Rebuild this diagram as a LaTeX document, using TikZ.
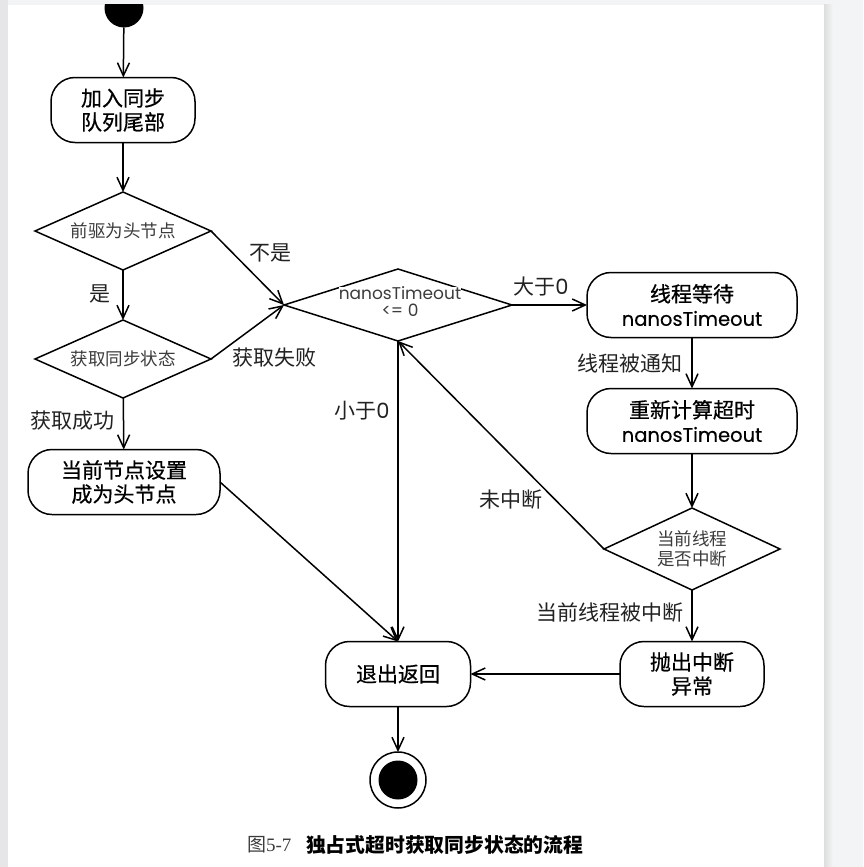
\documentclass[tikz,border=0pt]{standalone}
\usepackage{fontspec}
\setmainfont{Noto Sans CJK SC}
\newfontfamily\actfont[FakeBold=0.6]{Noto Sans CJK SC}
\newfontfamily\latinfont{Poppins}
\newfontfamily\actlatin[FakeBold=0.3]{Poppins}
\newfontfamily\numserif{Liberation Serif}
\usetikzlibrary{shapes.geometric,arrows.meta}

\definecolor{pagegray}{HTML}{F3F4F6}
\definecolor{stripgray}{HTML}{E6E6E9}
\definecolor{inkgray}{HTML}{222222}
\definecolor{softgray}{HTML}{3C3C3C}

\begin{document}
\begin{tikzpicture}[x=1pt,y=-1pt,
  every node/.style={inner sep=0pt, outer sep=0pt},
  act/.style={draw, line width=1.5pt, rounded corners=24pt, fill=white,
    minimum height=65pt, align=center, text=black,
    font=\actfont\fontsize{21}{24}\selectfont},
  dec/.style={draw, diamond, line width=1.5pt, fill=white},
  dectext/.style={align=center, text=softgray, font=\fontsize{17.5}{20}\selectfont},
  lbl/.style={text=inkgray, font=\fontsize{21}{24}\selectfont},
  flow/.style={line width=1.5pt, -{Straight Barb[length=13pt,width=12pt]}},
  boxlatin/.style={font=\actlatin\fontsize{19.5}{22}\selectfont},
]
% page and surrounding viewer background
\useasboundingbox (0,0) rectangle (863,867);
\fill[pagegray] (0,0) rectangle (863,867);
\fill[stripgray] (0,0) rectangle (8,867);
\fill[white] (8,5) rectangle (824,867);
\shade[left color=black!13, right color=pagegray] (824,5) rectangle (833,867);

% initial state, cut by the page edge
\begin{scope}
  \clip (8,5) rectangle (824,867);
  \node[circle, fill=black, minimum size=39pt] (start) at (124,8) {};
\end{scope}

% activities
\node[act, minimum width=144pt] (enq) at (123,110) {加入同步\\队列尾部};
\node[act, minimum width=192pt] (sethead) at (124,482) {当前节点设置\\成为头节点};
\node[act, minimum width=210pt] (park) at (692,305)
  {线程等待\\{\actlatin\fontsize{19.5}{22}\selectfont nanosTimeout}};
\node[act, minimum width=210pt] (recalc) at (692,421)
  {重新计算超时\\{\actlatin\fontsize{19.5}{22}\selectfont nanosTimeout}};
\node[act, minimum width=144pt] (throw) at (692,674) {抛出中断\\异常};
\node[act, minimum width=145pt] (ret) at (398,674) {退出返回};

% decisions
\node[dec, minimum width=176pt, minimum height=78pt] (ishead) at (123,231) {};
\node[dectext] (isheadT) at (ishead) {前驱为头节点};
\node[dec, minimum width=176pt, minimum height=78pt] (acq) at (123,359) {};
\node[dectext] (acqT) at (acq) {获取同步状态};
\node[dec, minimum width=228pt, minimum height=72pt] (tmo) at (398,305) {};
\node[dectext, fill=white, font=\latinfont\fontsize{17}{17}\selectfont]
  (tmoT) at (400,302) {nanosTimeout\\<= 0};
\node[dec, minimum width=176pt, minimum height=82pt] (intr) at (692,549) {};
\node[dectext] (intrT) at (intr) {当前线程\\是否中断};

% final state
\node[circle, draw, line width=1.5pt, fill=white, minimum size=56pt] (end) at (398,780) {};
\node[circle, fill=black, minimum size=39pt] (endcore) at (end) {};

% transitions
\draw[flow] (start) -- (enq);
\draw[flow] (enq) -- (ishead);
\draw[flow] (ishead.east) -- (tmo.west);
\draw[flow] (ishead) -- (acq);
\draw[flow] (acq.east) -- (tmo.west);
\draw[flow] (acq) -- (sethead);
\draw[flow] (sethead.east) -- (ret.north);
\draw[flow] (tmo.south) -- (ret.north);
\draw[flow] (tmo.east) -- (park.west);
\draw[flow] (park) -- (recalc);
\draw[flow] (recalc) -- (intr);
\draw[flow] (intr.west) -- (tmo.south);
\draw[flow] (intr) -- (throw);
\draw[flow] (throw) -- (ret);
\draw[flow] (ret) -- (end);

% guard labels
\node[lbl] (lnot) at (270,253) {不是};
\node[lbl] (lyes) at (100,294) {是};
\node[lbl] (lfail) at (274,358) {获取失败};
\node[lbl] (lok) at (72,421) {获取成功};
\node[lbl] (lless) at (362,411) {小于{\latinfont 0}};
\node[lbl] (lmore) at (541,287) {大于{\latinfont 0}};
\node[lbl] (lnotify) at (630,363) {线程被通知};
\node[lbl] (lnoint) at (511,500) {未中断};
\node[lbl] (lint) at (610,613) {当前线程被中断};

% caption
\node[anchor=west, text=softgray, font=\fontsize{19}{22}\selectfont] (capnum) at (247,845)
  {图{\numserif 5-7}};
\node[anchor=west, font=\bfseries\fontsize{19.8}{22}\selectfont] (captext) at (306,845)
  {独占式超时获取同步状态的流程};
\end{tikzpicture}
\end{document}
